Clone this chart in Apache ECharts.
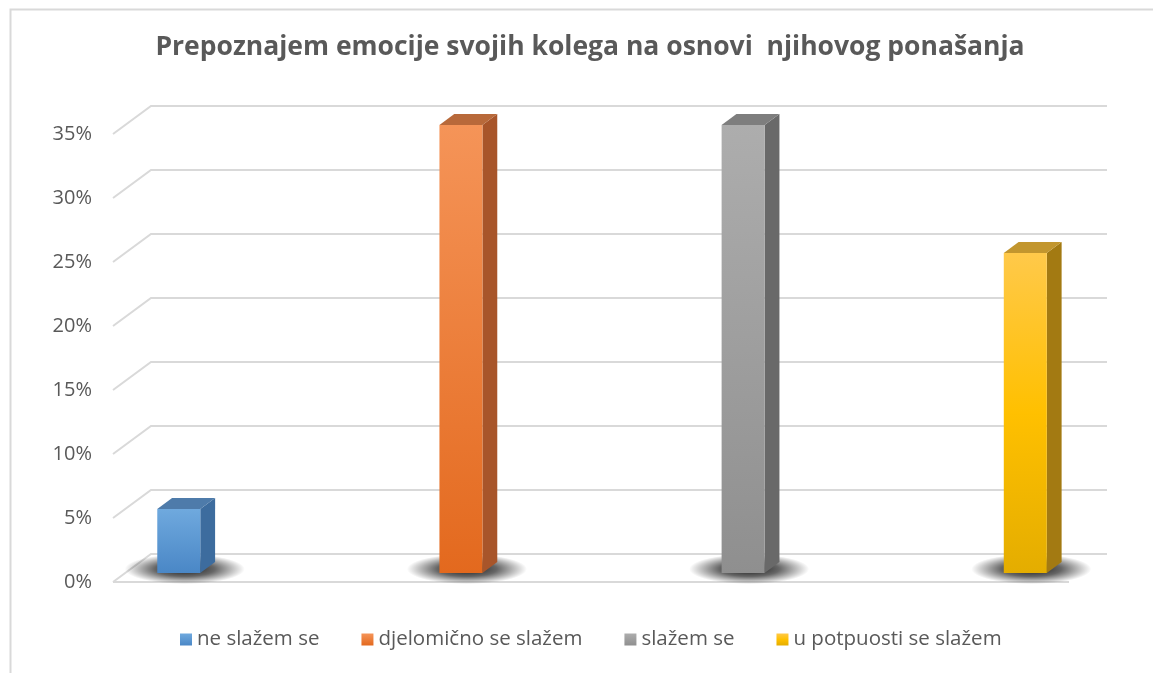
<!DOCTYPE html>
<html>
<head>
<meta charset="utf-8">
<script src="https://cdn.jsdelivr.net/npm/echarts@6/dist/echarts.min.js"></script>
<style>
html,body{margin:0;padding:0;background:#fff;}
#chart{width:1153px;height:673px;}
</style>
</head>
<body>
<div id="chart"></div>
<script>
var title = 'Prepoznajem emocije svojih kolega na osnovi  njihovog ponašanja';
var seriesNames = ['ne slažem se', 'djelomično se slažem', 'slažem se', 'u potpuosti se slažem'];
var seriesValues = [0.05, 0.35, 0.35, 0.25];
var yTicks = [0, 0.05, 0.10, 0.15, 0.20, 0.25, 0.30, 0.35];

var palette = [
  {front: ['#6FA9DE', '#4A87C6'], side: '#3D6C9E', top: '#4E7BAA'},
  {front: ['#F59458', '#E3691E'], side: '#A8552A', top: '#B8693A'},
  {front: ['#ADADAD', '#8F8F8F'], side: '#696969', top: '#7E7E7E'},
  {front: ['#FFC94A', '#FFC000', '#E4AD00'], side: '#A37A12', top: '#C2962E'}
];

var DX = 38, DY = -28;      // back wall offset
var D0 = 0.32, D1 = 0.71;   // bar depth fractions
var BAR_W = 0.1524;         // bar width in category units
var XMIN = -0.19, XMAX = 3.198;

var chart = echarts.init(document.getElementById('chart'));

function gradStops(cols) {
  return cols.map(function (c, i) { return {offset: i / (cols.length - 1), color: c}; });
}

function gridRender(params, api) {
  var t = api.value(0);
  var a = api.coord([XMIN, t]);
  var b = api.coord([XMAX, t]);
  var children = [];
  if (t === 0) {
    children.push({type: 'line', shape: {x1: a[0], y1: a[1], x2: b[0], y2: b[1]},
      style: {stroke: '#D9D9D9', lineWidth: 2}});
  }
  var pts = [[a[0], a[1]], [a[0] + DX, a[1] + DY], [b[0] + DX, b[1] + DY]];
  children.push({type: 'polyline', shape: {points: pts}, style: {stroke: '#D9D9D9', lineWidth: 2, fill: null}});
  return {type: 'group', children: children};
}

function makeBarRender(ci) {
  return function (params, api) {
    var x = api.value(0), v = api.value(1);
    var p0 = api.coord([x, 0]);
    var p1 = api.coord([x, v]);
    var w = api.size([BAR_W, 0])[0];
    var fx = p0[0] - w / 2 + DX * D0, fy0 = p0[1] + DY * D0, fy1 = p1[1] + DY * D0;
    var ddx = DX * (D1 - D0), ddy = DY * (D1 - D0);
    var pal = palette[ci];
    return {
      type: 'group',
      children: [
        {type: 'circle', shape: {cx: 0, cy: 0, r: 1},
          x: fx + w / 2 + 6, y: fy0 - 4, scaleX: 60, scaleY: 15,
          style: {fill: new echarts.graphic.RadialGradient(0.5, 0.5, 0.5, [
            {offset: 0, color: 'rgba(0,0,0,0.9)'},
            {offset: 0.5, color: 'rgba(0,0,0,0.6)'},
            {offset: 1, color: 'rgba(0,0,0,0)'}])}},
        {type: 'polygon', shape: {points: [[fx + w, fy0], [fx + w + ddx, fy0 + ddy], [fx + w + ddx, fy1 + ddy], [fx + w, fy1]]},
          style: {fill: pal.side}},
        {type: 'polygon', shape: {points: [[fx, fy1], [fx + w, fy1], [fx + w + ddx, fy1 + ddy], [fx + ddx, fy1 + ddy]]},
          style: {fill: pal.top}},
        {type: 'rect', shape: {x: fx, y: fy1, width: w, height: fy0 - fy1},
          style: {fill: new echarts.graphic.LinearGradient(0, 0, 0, 1, gradStops(pal.front))}}
      ]
    };
  };
}

var series = [{
  name: 'grid', type: 'custom', renderItem: gridRender, z: 1, silent: true,
  data: yTicks.map(function (t) { return [t]; }),
  encode: {y: 0}
}];
seriesNames.forEach(function (n, i) {
  series.push({
    name: n, type: 'custom', z: 2 + i, renderItem: makeBarRender(i),
    data: [[i, seriesValues[i]]],
    encode: {x: 0, y: 1},
    itemStyle: {color: new echarts.graphic.LinearGradient(0, 0, 0, 1, gradStops(palette[i].front))}
  });
});

chart.setOption({
  animation: false,
  backgroundColor: '#fff',
  title: {
    text: title, left: 585, textAlign: 'center', top: 29,
    textStyle: {fontFamily: 'Open Sans', fontWeight: 'bold', fontSize: 26.5, color: '#595959'}
  },
  graphic: [{type: 'rect', left: 8, top: 7, shape: {width: 1300, height: 800},
    style: {fill: null, stroke: '#D9D9D9', lineWidth: 2}, z: -10, silent: true}],
  legend: {
    data: seriesNames, bottom: 18, left: 175, icon: 'rect', itemWidth: 12, itemHeight: 12, itemGap: 42,
    textStyle: {fontFamily: 'Open Sans', fontSize: 20.5, color: '#595959'}
  },
  grid: {left: 113, right: 84, top: 134, bottom: 91, containLabel: false},
  xAxis: {type: 'value', min: XMIN, max: XMAX, show: false},
  yAxis: {
    type: 'value', min: 0, max: 0.35, interval: 0.05,
    axisLine: {show: false}, axisTick: {show: false}, splitLine: {show: false},
    axisLabel: {formatter: function (v) { return Math.round(v * 100) + '%'; }, margin: 21,
      fontFamily: 'Open Sans', fontSize: 20, color: '#595959'}
  },
  series: series
});
</script>
</body>
</html>
